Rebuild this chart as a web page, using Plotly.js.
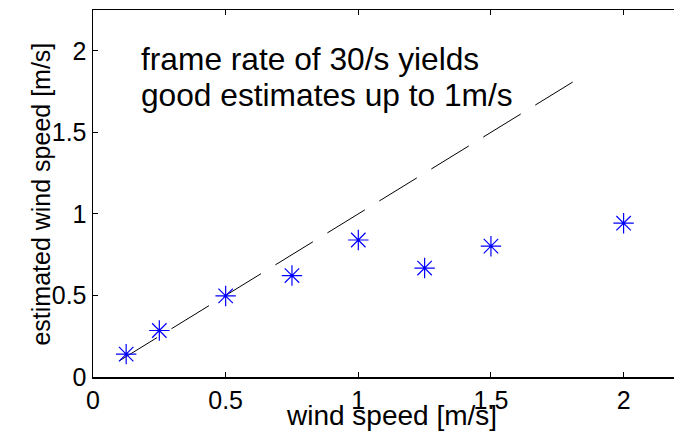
<!DOCTYPE html>
<html>
<head>
<meta charset="utf-8">
<script src="https://cdn.plot.ly/plotly-3.0.1.min.js"></script>
<style>html,body{margin:0;padding:0;background:#fff;}</style>
</head>
<body>
<div id="chart" style="width:674px;height:432px;"></div>
<script>
// measured wind speed [m/s]
var windSpeed = [0.125, 0.25, 0.5, 0.75, 1.0, 1.25, 1.5, 2.0];
// estimated wind speed [m/s]
var estimated = [0.14, 0.285, 0.497, 0.622, 0.84, 0.668, 0.802, 0.943];
// ideal (identity) reference line end points
var idealX = [0.1, 1.82];
var idealY = [0.1, 1.82];
var xTicks = [0, 0.5, 1, 1.5, 2];
var yTicks = [0, 0.5, 1, 1.5, 2];
var noteLines = ["frame rate of 30/s yields", "good estimates up to 1m/s"];
var xTitle = "wind speed [m/s]";
var yTitle = "estimated wind speed [m/s]";

var font = "Liberation Sans, Arial, Helvetica, sans-serif";

var traces = [
  {
    x: idealX, y: idealY, type: "scatter", mode: "lines",
    line: {color: "black", width: 1, dash: "44px,17px"},
    hoverinfo: "skip"
  },
  {
    x: windSpeed, y: estimated, type: "scatter", mode: "markers",
    marker: {symbol: "asterisk-open", size: 17, color: "rgb(0,0,255)",
             line: {color: "rgb(0,0,255)", width: 1.2}}
  }
];

var layout = {
  width: 674, height: 432,
  margin: {l: 93, r: 0, t: 10, b: 55, pad: 0},
  paper_bgcolor: "white", plot_bgcolor: "white",
  showlegend: false,
  font: {family: font, color: "black"},
  xaxis: {
    range: [0, 2.19], tickvals: xTicks, ticktext: xTicks.map(String),
    ticks: "inside", ticklen: 5, tickwidth: 1, tickcolor: "black",
    showline: true, linecolor: "black", linewidth: 1.5, mirror: "ticks",
    showgrid: false, zeroline: false,
    tickfont: {size: 25, family: font}
  },
  yaxis: {
    range: [0, 2.25], tickvals: yTicks, ticktext: yTicks.map(String),
    ticks: "inside", ticklen: 5, tickwidth: 1, tickcolor: "black",
    showline: true, linecolor: "black", linewidth: 1.5, mirror: false,
    showgrid: false, zeroline: false,
    tickfont: {size: 25, family: font}
  },
  annotations: [
    {xref: "x", yref: "y", x: 0.173, y: 1.95, xanchor: "left", yanchor: "middle",
     text: noteLines[0], showarrow: false, font: {size: 31.7, family: font, color: "black"}},
    {xref: "x", yref: "y", x: 0.173, y: 1.728, xanchor: "left", yanchor: "middle",
     text: noteLines[1], showarrow: false, font: {size: 31.7, family: font, color: "black"}},
    {xref: "paper", yref: "paper", x: 0.5146, y: 0, xanchor: "center", yanchor: "bottom",
     yshift: -55, borderpad: 0, text: xTitle, showarrow: false,
     font: {size: 28, family: font, color: "black"}},
    {xref: "paper", yref: "paper", x: 0, y: 0.497, xanchor: "center", yanchor: "middle",
     xshift: -52, textangle: -90, text: yTitle, showarrow: false,
     font: {size: 25, family: font, color: "black"}}
  ]
};

Plotly.newPlot("chart", traces, layout, {displayModeBar: false, staticPlot: true});
</script>
</body>
</html>
